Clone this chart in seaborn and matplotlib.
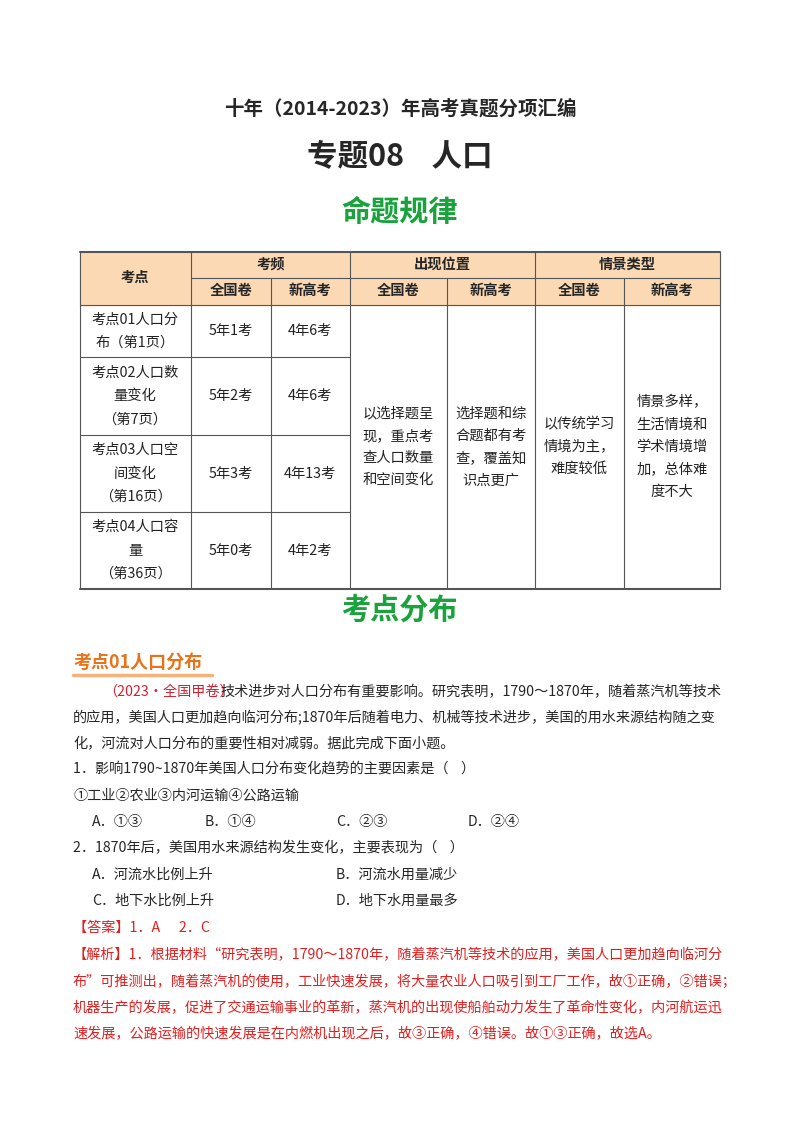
import matplotlib
matplotlib.use("Agg")
import matplotlib.pyplot as plt
import seaborn as sns

sns.set_theme(style="white")
plt.rcParams['font.family'] = ['Noto Sans CJK SC', 'DejaVu Sans']

# 表格内容
col_edges = [80, 191, 271, 350, 447, 535, 624, 720]
row_edges = [252, 278, 305, 357, 435, 512, 589]
group_heads = [("考频", 1, 3), ("出现位置", 3, 5), ("情景类型", 5, 7)]
sub_heads = ["全国卷", "新高考", "全国卷", "新高考", "全国卷", "新高考"]
kaodian = ["考点01人口分\n布（第1页）", "考点02人口数\n量变化\n（第7页）",
           "考点03人口空\n间变化\n（第16页）", "考点04人口容\n量\n（第36页）"]
quanguo = ["5年1考", "5年2考", "5年3考", "5年0考"]
xingaokao = ["4年6考", "4年6考", "4年13考", "4年2考"]
merged = ["以选择题呈\n现，重点考\n查人口数量\n和空间变化",
          "选择题和综\n合题都有考\n查，覆盖知\n识点更广",
          "以传统学习\n情境为主，\n难度较低",
          "情景多样，\n生活情境和\n学术情境增\n加，总体难\n度不大"]

intro = ["技术进步对人口分布有重要影响。研究表明，1790～1870年，随着蒸汽机等技术",
         "的应用，美国人口更加趋向临河分布;1870年后随着电力、机械等技术进步，美国的用水来源结构随之变",
         "化，河流对人口分布的重要性相对减弱。据此完成下面小题。"]
q1 = "1．影响1790~1870年美国人口分布变化趋势的主要因素是（    ）"
q1_items = "①工业②农业③内河运输④公路运输"
q1_opts = ["A．①③", "B．①④", "C．②③", "D．②④"]
q2 = "2．1870年后，美国用水来源结构发生变化，主要表现为（    ）"
q2_opts = ["A．河流水比例上升", "B．河流水用量减少", "C．地下水比例上升", "D．地下水用量最多"]
answer = "【答案】1．A      2．C"
analysis = ["【解析】1．根据材料“研究表明，1790～1870年，随着蒸汽机等技术的应用，美国人口更加趋向临河分",
            "布”可推测出，随着蒸汽机的使用，工业快速发展，将大量农业人口吸引到工厂工作，故①正确，②错误；",
            "机器生产的发展，促进了交通运输事业的革新，蒸汽机的出现使船舶动力发生了革命性变化，内河航运迅",
            "速发展，公路运输的快速发展是在内燃机出现之后，故③正确，④错误。故①③正确，故选A。"]

fig = plt.figure(figsize=(8, 11.32), dpi=100)
ax = fig.add_axes([0, 0, 1, 1])
ax.set_xlim(0, 800)
ax.set_ylim(1132, 0)
ax.axis("off")

green = "#1aa33c"
ax.text(400, 109, "十年（2014-2023）年高考真题分项汇编", ha="center", va="center", fontsize=14, weight="bold")
ax.text(400, 157, "专题08    人口", ha="center", va="center", fontsize=22, weight="bold")
ax.text(400, 212, "命题规律", ha="center", va="center", fontsize=21, weight="bold", color=green)

# 表头底色
ax.fill_between([col_edges[0], col_edges[-1]], row_edges[0], row_edges[2], color="#fbd9b5", zorder=0)
lc = "#555555"
ax.plot([80, 720], [252, 252], color=lc, lw=1.5)
ax.plot([80, 720], [589, 589], color=lc, lw=1.5)
ax.plot([191, 720], [278, 278], color=lc, lw=0.8)
ax.plot([80, 720], [305, 305], color=lc, lw=0.8)
for y in row_edges[3:-1]:
    ax.plot([80, 350], [y, y], color=lc, lw=0.8)
for x in col_edges:
    if x in (271, 447, 624):
        ax.plot([x, x], [278, 589], color=lc, lw=0.8)
    else:
        ax.plot([x, x], [252, 589], color=lc, lw=0.8)

tfs = 10.3
ax.text(135, 278, "考点", ha="center", va="center", fontsize=tfs, weight="bold")
for name, a, b in group_heads:
    ax.text((col_edges[a] + col_edges[b]) / 2, 265, name, ha="center", va="center", fontsize=tfs, weight="bold")
for i, name in enumerate(sub_heads):
    ax.text((col_edges[i + 1] + col_edges[i + 2]) / 2, 291, name, ha="center", va="center", fontsize=tfs, weight="bold")
for r in range(4):
    yc = (row_edges[r + 2] + row_edges[r + 3]) / 2
    ax.text(135, yc, kaodian[r], ha="center", va="center", fontsize=tfs, linespacing=1.85, color="#222222")
    ax.text(231, yc, quanguo[r], ha="center", va="center", fontsize=tfs, color="#222222")
    ax.text(310, yc, xingaokao[r], ha="center", va="center", fontsize=tfs, color="#222222")
for i, t in enumerate(merged):
    xc = (col_edges[i + 3] + col_edges[i + 4]) / 2
    ax.text(xc, 447, t, ha="center", va="center", fontsize=tfs, linespacing=1.75, color="#222222")

ax.text(400, 610, "考点分布", ha="center", va="center", fontsize=21, weight="bold", color=green)

orange = "#e8731a"
ax.text(73, 662, "考点01人口分布", ha="left", va="center", fontsize=13, weight="bold", color=orange)
ax.plot([73, 212], [675, 675], color="#f5b27a", lw=2.5)

fs = 10.2
red = "#e02020"
ax.text(103, 692, "（2023·全国甲卷）", ha="left", va="center", fontsize=fs, color="#d02030")
ax.text(220, 692, intro[0], ha="left", va="center", fontsize=fs)
ax.text(73, 718, intro[1], ha="left", va="center", fontsize=fs)
ax.text(73, 744, intro[2], ha="left", va="center", fontsize=fs)
ax.text(73, 769, q1, ha="left", va="center", fontsize=fs)
ax.text(73, 796, q1_items, ha="left", va="center", fontsize=fs)
for x, t in zip([92, 205, 336, 468], q1_opts):
    ax.text(x, 822, t, ha="left", va="center", fontsize=fs)
ax.text(73, 848, q2, ha="left", va="center", fontsize=fs)
for (x, y), t in zip([(92, 875), (336, 875), (92, 901), (336, 901)], q2_opts):
    ax.text(x, y, t, ha="left", va="center", fontsize=fs)
ax.text(73, 928, answer, ha="left", va="center", fontsize=fs, color=red)
for i, line in enumerate(analysis):
    ax.text(73, 955 + i * 26.5, line, ha="left", va="center", fontsize=fs, color=red)

fig.savefig("out.png", dpi=100, facecolor="white")
